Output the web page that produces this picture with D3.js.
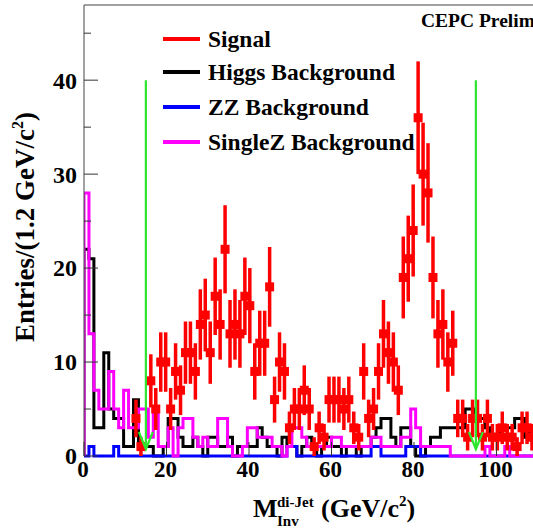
<!DOCTYPE html>
<html><head><meta charset="utf-8">
<script src="https://cdn.jsdelivr.net/npm/d3@7/dist/d3.min.js"></script>
<style>body{margin:0;background:#fff}svg{display:block}</style>
</head><body><svg id="c" width="533" height="530"></svg>
<script>
const binWidth = 1.2;
const signal = [0,0,0,0,0,0,0,0,0,0,
 4,1,0,8,5,10,10,5,9,7,
 11,11,9,14,15,11,17,14,22,13,
 14,13,17,16,9,12,12,18,6,10,
 9,3,5,5,7,5,1,3,2,6,
 6,6,5,6,3,2,9,4,5,9,
 13,11,10,7,19,21,24,36,30,28,
 19,13,14,10,12,4,4,2,4,4,
 2,4,2,2,3,2,2,1,3,3,
 2];
const higgs = [22,21,3,3,11,5,4,4,1,1,
 6,1,1,1,0,0,1,4,4,2,
 1,1,2,1,0,2,2,1,1,2,
 0,1,1,1,1,3,2,1,1,0,
 2,1,1,0,1,2,1,0,1,2,
 1,1,0,1,1,0,1,1,2,3,
 4,4,2,1,3,3,1,0,0,1,
 2,2,3,3,3,3,3,5,5,4,
 4,3,2,2,3,3,3,4,4,2,
 3];
const zz = [0,1,0,0,0,0,1,0,0,0,
 0,0,0,0,0,0,0,0,0,0,
 0,0,0,0,0,0,0,0,0,0,
 0,0,0,0,0,0,0,0,0,0,
 0,1,1,0,0,0,0,0,0,0,
 0,0,0,0,0,0,0,0,1,1,
 0,0,0,0,0,1,1,1,0,0,
 0,0,0,0,0,0,0,0,0,0,
 0,0,0,0,0,0,0,0,0,0,
 0];
const singleZ = [28,13,7,5,5,9,5,3,7,3,
 3,5,5,2,5,1,1,3,0,3,
 4,4,2,1,2,1,1,4,4,1,
 0,0,1,3,3,2,2,2,1,1,
 0,1,3,3,2,1,1,1,1,1,
 2,2,1,1,1,1,1,1,2,2,
 1,1,1,1,2,2,5,3,1,1,
 1,1,1,1,0,0,0,0,0,0,
 0,1,0,0,0,1,0,0,0,0,
 0];
const xTicks = [0,20,40,60,80,100];
const yMajorTicks = [0,10,20,30,40];
const yMinorTicks = [5,15,25,35,45];
const cutValues = [15,95];
const cutTop = 40;
const legendLabels = ["Signal","Higgs Background","ZZ Background","SingleZ Background"];
const legendColors = ["#ff0000","#000000","#0000ff","#ff00ff"];

const svg = d3.select("#c");
const X0 = 84, Y0 = 456;
const x = d3.scaleLinear().domain([0,120]).range([X0, X0 + 120*4.125]);
const y = d3.scaleLinear().domain([0,48]).range([Y0, 5]);
const serif = "'Liberation Serif','Times New Roman',serif";

svg.append("clipPath").attr("id","pc").append("rect")
  .attr("x", X0).attr("y", 0).attr("width", 533 - X0).attr("height", Y0 + 4);

const plot = svg.append("g").attr("clip-path","url(#pc)");

function stepPath(vals){
  const pts = [[0,0]];
  vals.forEach((v,i)=>pts.push([i*binWidth, v]));
  pts.push([vals.length*binWidth, vals[vals.length-1]]);
  pts.push([vals.length*binWidth, 0]);
  return d3.line().x(d=>x(d[0])).y(d=>y(d[1])).curve(d3.curveStepAfter)(pts);
}
[[higgs,"#000000"],[zz,"#0000ff"],[singleZ,"#ff00ff"]].forEach(([vals,col])=>{
  plot.append("path").attr("d", stepPath(vals)).attr("fill","none")
    .attr("stroke", col).attr("stroke-width", 3).attr("stroke-linejoin","miter");
});

const sig = signal.map((v,i)=>({v, c:(i+0.5)*binWidth})).filter(d=>d.v>0);
plot.selectAll("line.err").data(sig).enter().append("line")
  .attr("x1", d=>x(d.c)).attr("x2", d=>x(d.c))
  .attr("y1", d=>y(d.v - Math.sqrt(d.v))).attr("y2", d=>y(d.v + Math.sqrt(d.v)))
  .attr("stroke","#ff0000").attr("stroke-width",3.5);
plot.selectAll("rect.mk").data(sig).enter().append("rect")
  .attr("x", d=>x(d.c)-4.5).attr("y", d=>y(d.v)-4.5).attr("width",9).attr("height",9)
  .attr("fill","#ff0000");

// cut arrows
const green = "#2ee62e";
cutValues.forEach(c=>{
  const g = plot.append("g").attr("stroke", green).attr("stroke-width", 2.2).attr("fill","none");
  g.append("line").attr("x1",x(c)).attr("x2",x(c)).attr("y1",y(cutTop)).attr("y2",Y0-7);
  g.append("path").attr("d", `M${x(c)-7},${Y0-24} L${x(c)},${Y0-7} L${x(c)+7},${Y0-24}`);
});

// frame
svg.append("line").attr("x1",X0).attr("x2",533).attr("y1",5).attr("y2",5).attr("stroke","#444").attr("stroke-width",1);
svg.append("line").attr("x1",X0).attr("x2",X0).attr("y1",5).attr("y2",Y0).attr("stroke","#444").attr("stroke-width",1);

// y ticks
yMajorTicks.forEach(t=>{
  svg.append("line").attr("x1",X0).attr("x2",X0+14).attr("y1",y(t)).attr("y2",y(t)).attr("stroke","#333");
  svg.append("text").attr("x",X0-7).attr("y",y(t)).attr("dy","0.35em").attr("text-anchor","end")
    .attr("font-family",serif).attr("font-weight","bold").attr("font-size",24).text(t);
});
yMinorTicks.forEach(t=>{
  svg.append("line").attr("x1",X0).attr("x2",X0+7).attr("y1",y(t)).attr("y2",y(t)).attr("stroke","#333");
});
// x ticks
xTicks.forEach(t=>{
  svg.append("line").attr("x1",x(t)).attr("x2",x(t)).attr("y1",Y0).attr("y2",Y0-14).attr("stroke","#333");
  svg.append("text").attr("x",x(t)-1).attr("y",477).attr("text-anchor","middle")
    .attr("font-family",serif).attr("font-weight","bold").attr("font-size",23).text(t);
});

// x title
const xt = svg.append("g").attr("font-family",serif).attr("font-weight","bold");
xt.append("text").attr("x",253).attr("y",517).attr("font-size",26).text("M");
xt.append("text").attr("x",277).attr("y",507).attr("font-size",15).text("di-Jet");
xt.append("text").attr("x",277).attr("y",526).attr("font-size",15).text("Inv");
const xt2 = xt.append("text").attr("x",321).attr("y",517).attr("font-size",26);
xt2.append("tspan").text("(GeV/c");
xt2.append("tspan").attr("font-size",15).attr("dy",-11).text("2");
xt2.append("tspan").attr("dy",11).text(")");

// y title
const yt = svg.append("text").attr("transform","translate(34,112) rotate(-90)").attr("text-anchor","end")
  .attr("font-family",serif).attr("font-weight","bold").attr("font-size",27);
yt.append("tspan").text("Entries/(1.2 GeV/c");
yt.append("tspan").attr("font-size",16).attr("dy",-11).text("2");
yt.append("tspan").attr("dy",11).text(")");

// legend
const legY = [39,72,107,142];
legendLabels.forEach((l,i)=>{
  svg.append("line").attr("x1",163).attr("x2",200).attr("y1",legY[i]).attr("y2",legY[i])
    .attr("stroke",legendColors[i]).attr("stroke-width",4);
  svg.append("text").attr("x",208).attr("y",legY[i]).attr("dy","0.33em")
    .attr("font-family",serif).attr("font-weight","bold").attr("font-size",23.5).text(l);
});

svg.append("text").attr("x",421).attr("y",27).attr("font-family",serif).attr("font-weight","bold")
  .attr("font-size",19.5).text("CEPC Preliminary");
</script></body></html>
